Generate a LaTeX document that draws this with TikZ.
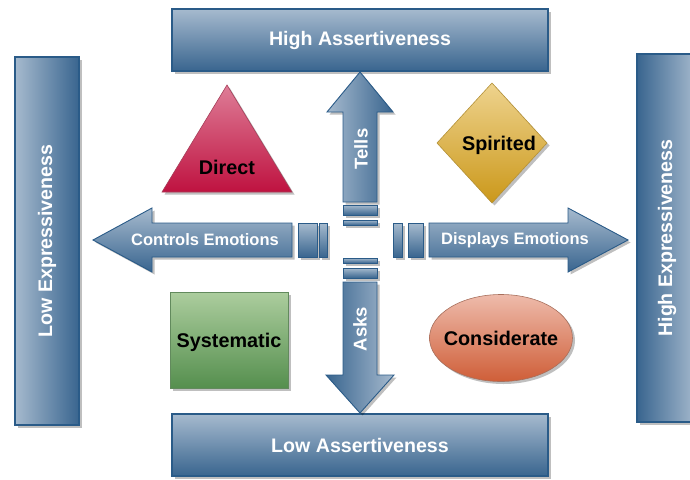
\documentclass[tikz,border=0pt]{standalone}
\usepackage{fontspec}
\setmainfont{Liberation Sans}
\usetikzlibrary{shapes.geometric,shadows,positioning}
\definecolor{bluelight}{HTML}{A6BACE}
\definecolor{bluedark}{HTML}{39658F}
\definecolor{blueline}{HTML}{2A5B88}
\definecolor{redtop}{HTML}{DE7D97}
\definecolor{redbot}{HTML}{BF1240}
\definecolor{goldtop}{HTML}{EED38E}
\definecolor{goldbot}{HTML}{CB981A}
\definecolor{greentop}{HTML}{ACCD9E}
\definecolor{greenbot}{HTML}{558F4E}
\definecolor{oratop}{HTML}{EEBBAB}
\definecolor{orabot}{HTML}{CF5E38}
\tikzset{
	softshadow/.style={drop shadow={shadow xshift=2.5pt, shadow yshift=-2.5pt, fill=black, opacity=0.25}},
	band/.style={draw=blueline, line width=1.2pt, text=white, softshadow,
		font=\bfseries\fontsize{19.6}{22}\selectfont, inner sep=0pt},
	hband/.style={band, top color=bluelight, bottom color=bluedark,
		minimum width=376pt, minimum height=62pt},
	vband/.style={band, rotate=90, minimum width=368pt, minimum height=#1},
	arrowbody/.style={draw=blueline, line width=0.9pt, softshadow},
	bar/.style={draw=blueline, line width=0.9pt, top color=bluelight, bottom color=bluedark, softshadow},
	arrowlabel/.style={text=white, font=\bfseries\fontsize{#1}{20}\selectfont, inner sep=0pt},
	shapelabel/.style={text=black, font=\bfseries\fontsize{19.8}{22}\selectfont, inner sep=0pt},
}
\begin{document}
\begin{tikzpicture}[x=1pt, y=-1pt]
	\useasboundingbox (0,0) rectangle (690,479);

	% the four bands
	\node[hband] (highassert) at (360,40) {High Assertiveness};
	\node[hband] (lowassert) at (360,445) {Low Assertiveness};
	\node[vband=64pt, left color=bluelight, right color=bluedark] (lowexpr) at (47,241) {Low Expressiveness};
	\node[vband=60pt, left color=bluedark, right color=bluelight] (highexpr) at (667,238) {High Expressiveness};

	% arrows from the centre
	\draw[arrowbody, left color=bluelight, right color=bluedark]
		(343,202) -- (343,112) -- (327,112) -- (360,72) -- (393,112) -- (377,112) -- (377,202) -- cycle;
	\draw[arrowbody, left color=bluedark, right color=bluelight]
		(343,282) -- (343,375) -- (326,375) -- (360,413) -- (394,375) -- (377,375) -- (377,282) -- cycle;
	\draw[arrowbody, top color=bluelight, bottom color=bluedark]
		(292,223) -- (152,223) -- (152,208) -- (93,240) -- (152,272) -- (152,257) -- (292,257) -- cycle;
	\draw[arrowbody, top color=bluelight, bottom color=bluedark]
		(429,223) -- (568,223) -- (568,208) -- (628,240) -- (568,272) -- (568,257) -- (429,257) -- cycle;

	\node[arrowlabel=18.5, rotate=90] (tells) at (361,149) {Tells};
	\node[arrowlabel=18.5, rotate=90] (asks) at (360,329) {Asks};
	\node[arrowlabel=16.5] (controls) at (205,240) {Controls Emotions};
	\node[arrowlabel=16.5] (displays) at (515,240) {Displays Emotions};

	% small bars round the centre
	\draw[bar] (343,205) rectangle (377,215);
	\draw[bar] (343,220) rectangle (377,225);
	\draw[bar] (343,258) rectangle (377,263);
	\draw[bar] (343,268) rectangle (377,278);
	\draw[bar] (298,223) rectangle (317,257);
	\draw[bar] (319,223) rectangle (327,257);
	\draw[bar] (393,223) rectangle (402,257);
	\draw[bar] (408,223) rectangle (423,257);

	% the four styles
	\draw[draw=redbot!60!gray, line width=0.6pt, top color=redtop, bottom color=redbot, softshadow]
		(227,85) -- (292,192) -- (162,192) -- cycle;
	\node[shapelabel] (direct) at (227,167) {Direct};

	\draw[draw=goldbot!70!gray, line width=0.6pt, top color=goldtop, bottom color=goldbot, softshadow]
		(492,83) -- (547,143) -- (492,203) -- (437,143) -- cycle;
	\node[shapelabel] (spirited) at (499,145) {Spirited};

	\node[rectangle, draw=greenbot!70!gray, line width=0.6pt, top color=greentop, bottom color=greenbot,
		softshadow, minimum width=118pt, minimum height=96pt] (sysbox) at (229,340) {};
	\node[shapelabel] (systematic) at (229,342) {Systematic};

	\node[ellipse, draw=orabot!50!gray, line width=0.6pt, top color=oratop, bottom color=orabot,
		softshadow, minimum width=143pt, minimum height=87pt] (consbox) at (501,338) {};
	\node[shapelabel] (considerate) at (501,338) {Considerate};
\end{tikzpicture}
\end{document}
